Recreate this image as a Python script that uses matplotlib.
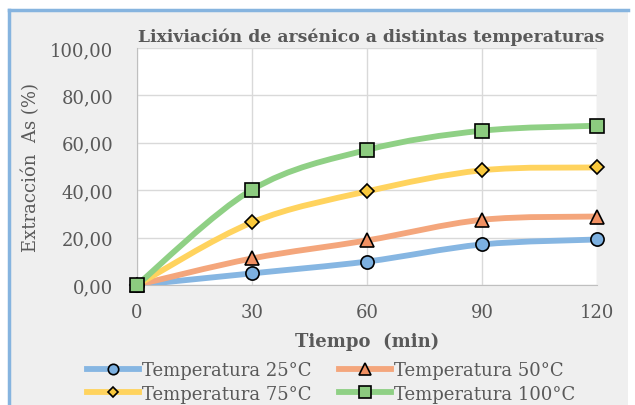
import numpy as np
import matplotlib.pyplot as plt
from matplotlib.path import Path
from matplotlib.patches import PathPatch, Rectangle
from matplotlib.lines import Line2D
from matplotlib.ticker import FuncFormatter

tiempo = [0, 30, 60, 90, 120]
t25 = [0.0, 4.9, 9.9, 17.1, 19.2]
t50 = [0.0, 11.2, 18.8, 27.5, 28.9]
t75 = [0.0, 26.4, 39.5, 48.4, 49.6]
t100 = [0.0, 40.2, 57.0, 65.1, 67.2]
labels = ['Temperatura 25°C', 'Temperatura 50°C', 'Temperatura 75°C', 'Temperatura 100°C']

plt.rcParams['font.family'] = ['DejaVu Serif']
fs = 13
gris = '#595959'

fig = plt.figure(figsize=(6.35, 4.06), dpi=100, facecolor='white')

# chart area background with blue top/left edge
fig.patches.append(Rectangle((8/635, 0), 620/635, 395/406, transform=fig.transFigure,
                             facecolor='#efefef', edgecolor='none', zorder=-5))
fig.lines.append(Line2D([8.5/635, 8.5/635], [0, 395/406], transform=fig.transFigure,
                        color='#86b4df', lw=2.5, zorder=-4))
fig.lines.append(Line2D([8.5/635, 628/635], [395/406, 395/406], transform=fig.transFigure,
                        color='#86b4df', lw=2.5, zorder=-4))

ax = fig.add_axes((137/635, 1 - 286/406, 460/635, 237/406))
ax.set_zorder(2)
ax.set_facecolor('white')


def smooth(ax, x, y, color):
    x = np.asarray(x, float)
    y = np.asarray(y, float)
    n = len(x)
    verts = [(x[0], y[0])]
    codes = [Path.MOVETO]
    for i in range(n - 1):
        p0 = np.array([x[max(i - 1, 0)], y[max(i - 1, 0)]])
        p1 = np.array([x[i], y[i]])
        p2 = np.array([x[i + 1], y[i + 1]])
        p3 = np.array([x[min(i + 2, n - 1)], y[min(i + 2, n - 1)]])
        c1 = p1 + (p2 - p0) / 6
        c2 = p2 - (p3 - p1) / 6
        verts += [tuple(c1), tuple(c2), tuple(p2)]
        codes += [Path.CURVE4] * 3
    ax.add_patch(PathPatch(Path(verts, codes), facecolor='none', edgecolor=color,
                           lw=4.2, capstyle='round', zorder=3))


series = [
    (t25, '#86b6e2', 'o', '#7cb0e0', 9.5),
    (t50, '#f4a67c', '^', '#f19062', 10),
    (t75, '#ffd35e', 'D', '#f9c83c', 7.5),
    (t100, '#8fd085', 's', '#8ccb7f', 10),
]
handles = []
for (vals, lc, mk, mc, ms), lab in zip(series, labels):
    smooth(ax, tiempo, vals, lc)
    ax.plot(tiempo, vals, ls='none', marker=mk, ms=ms, mfc=mc, mec='black',
            mew=1.2, zorder=4, clip_on=False)
    handles.append(Line2D([], [], color=lc, lw=4.2, marker=mk, ms=ms - 2, mfc=mc,
                          mec='black', mew=1.2, label=lab))

ax.set_xlim(0, 120)
ax.set_ylim(0, 100)
ax.set_xticks(tiempo)
ax.set_yticks(np.arange(0, 101, 20))
ax.yaxis.set_major_formatter(FuncFormatter(lambda v, p: f'{v:.2f}'.replace('.', ',')))
ax.grid(color='#d9d9d9', lw=1)
ax.set_axisbelow(True)
for s in ax.spines.values():
    s.set_visible(False)
ax.spines['left'].set_visible(True)
ax.spines['left'].set_color('#bfbfbf')
ax.spines['bottom'].set_visible(True)
ax.spines['bottom'].set_color('#bfbfbf')
ax.tick_params(length=0, labelsize=fs, colors=gris)
ax.tick_params(axis='y', pad=17)
ax.tick_params(axis='x', pad=13)

ax.set_title('Lixiviación de arsénico a distintas temperaturas', fontsize=12.4,
             fontweight='bold', color=gris, pad=5, x=0.51)
ax.set_xlabel('Tiempo  (min)', fontsize=fs, fontweight='bold', color=gris,
              labelpad=8)
ax.set_ylabel('Extracción  As (%)', fontsize=fs, color=gris, labelpad=7)

order = [0, 2, 1, 3]
fig.legend([handles[i] for i in order], [labels[i] for i in order], ncol=2,
           loc='center', bbox_to_anchor=(0.521, 1 - 383/406), frameon=False,
           fontsize=fs, handlelength=2.9, handletextpad=0.15, columnspacing=1.5,
           labelspacing=0.28, borderpad=0, labelcolor=gris)

fig.savefig('out.png', dpi=100)
